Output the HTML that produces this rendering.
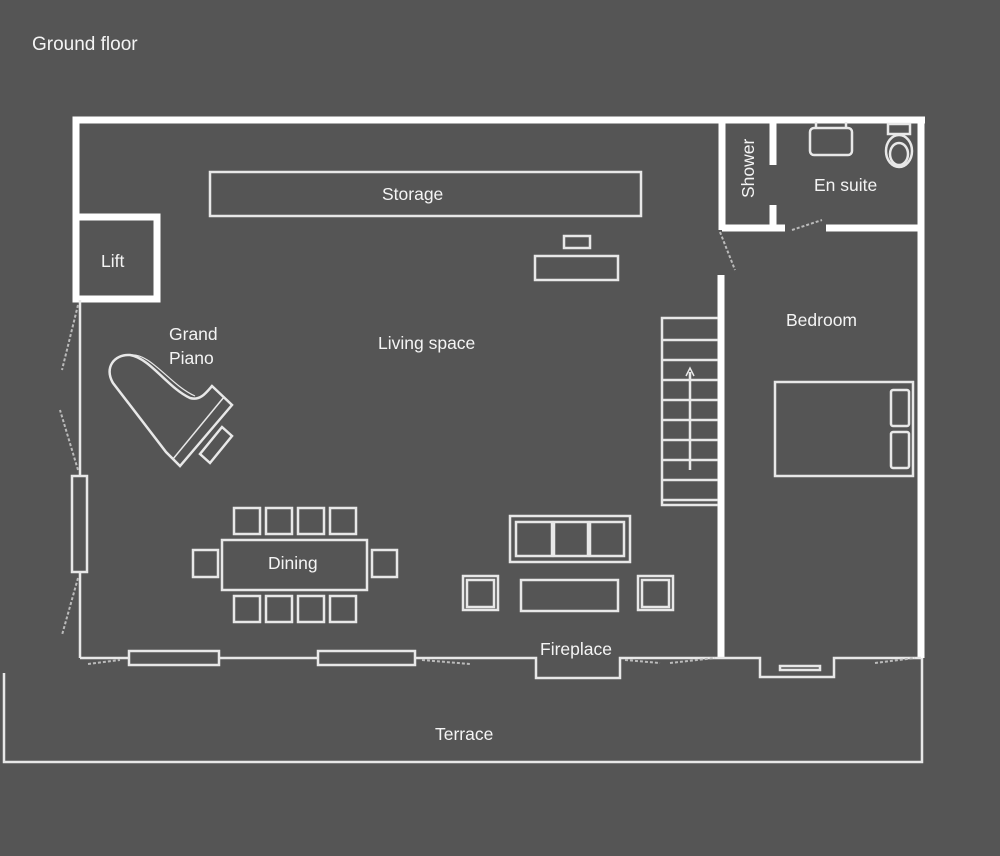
<!DOCTYPE html>
<html><head><style>
html,body{margin:0;padding:0;background:#555555;}
svg{display:block}
text{font-family:"Liberation Sans",sans-serif;font-size:17.5px;fill:#f4f4f4}
</style></head><body>
<svg width="1000" height="856" viewBox="0 0 1000 856">
<rect width="1000" height="856" fill="#555555"/>
<text x="32" y="50" style="font-size:19px">Ground floor</text>
<g stroke="#ffffff" fill="none">
<g stroke-width="7">
<polyline points="76,217 76,120 925,120 921,120 921,658"/>
<rect x="76" y="217" width="81" height="82"/>
<line x1="722" y1="120" x2="722" y2="230"/>
<polyline points="722,228 785,228"/>
<line x1="826" y1="228" x2="921" y2="228"/>
<line x1="773" y1="120" x2="773" y2="165"/>
<line x1="773" y1="205" x2="773" y2="228"/>
<line x1="721" y1="275" x2="721" y2="658"/>
</g>
<g stroke-width="2.5" stroke="#e8e8e8">
<line x1="80" y1="300" x2="80" y2="658"/>
<polyline points="80,658 536,658 536,678 620,678 620,658 760,658 760,677 834,677 834,658 921,658"/>
<polyline points="4,673 4,762 922,762 922,658"/>
<rect x="210" y="172" width="431" height="44"/>
<rect x="564" y="236" width="26" height="12"/>
<rect x="535" y="256" width="83" height="24"/>
<rect x="72" y="476" width="15" height="96" fill="#555"/>
<rect x="129" y="651" width="90" height="14" fill="#555"/>
<rect x="318" y="651" width="97" height="14" fill="#555"/>
<polyline points="718,318 662,318 662,505 718,505"/>
<path d="M662,340H718M662,360H718M662,380H718M662,400H718M662,420H718M662,440H718M662,460H718M662,480H718M662,500H718"/>
<line x1="690" y1="470" x2="690" y2="372"/>
<path d="M686,376 L690,368 L694,376" stroke-width="1.5"/>
<rect x="775" y="382" width="138" height="94"/>
<rect x="891" y="390" width="18" height="36" rx="2"/>
<rect x="891" y="432" width="18" height="36" rx="2"/>
<rect x="222" y="540" width="145" height="50"/>
<rect x="234" y="508" width="26" height="26"/><rect x="266" y="508" width="26" height="26"/><rect x="298" y="508" width="26" height="26"/><rect x="330" y="508" width="26" height="26"/>
<rect x="234" y="596" width="26" height="26"/><rect x="266" y="596" width="26" height="26"/><rect x="298" y="596" width="26" height="26"/><rect x="330" y="596" width="26" height="26"/>
<rect x="193" y="550" width="25" height="27"/><rect x="372" y="550" width="25" height="27"/>
<rect x="510" y="516" width="120" height="46"/>
<rect x="516" y="522" width="36" height="34"/><rect x="554" y="522" width="34" height="34"/><rect x="590" y="522" width="34" height="34"/>
<rect x="463" y="576" width="35" height="34"/><rect x="467" y="580" width="27" height="27"/>
<rect x="638" y="576" width="35" height="34"/><rect x="642" y="580" width="27" height="27"/>
<rect x="521" y="580" width="97" height="31"/>
<!-- piano -->
<path d="M113,383 C104,368 114,354 130,355 C150,358 168,388 190,398 C200,401 206,393 212,386 L232,405 L180,466 L166,452 Z"/>
<line x1="224" y1="397" x2="173" y2="459" stroke-width="1.5"/>
<path d="M130,355 C150,352 170,385 195,396" stroke-width="1.2"/>
<polygon points="222,427 232,436 210,463 200,454"/>
<rect x="810" y="128" width="42" height="27" rx="4"/>
<path d="M816,128V122M846,128V122"/>
<rect x="888" y="124" width="22" height="10"/>
<ellipse cx="899" cy="151" rx="13" ry="16"/>
<ellipse cx="899" cy="154" rx="9" ry="11"/>
<rect x="780" y="666" width="40" height="4"/>
</g>
<g stroke="#bbbbbb" stroke-width="2" stroke-dasharray="3,2">
<line x1="78" y1="305" x2="62" y2="370"/>
<line x1="78" y1="470" x2="60" y2="410"/>
<line x1="78" y1="578" x2="62" y2="635"/>
<line x1="720" y1="232" x2="735" y2="270"/>
<line x1="792" y1="230" x2="822" y2="220"/>
<line x1="88" y1="664" x2="120" y2="660"/>
<line x1="422" y1="660" x2="470" y2="664"/>
<line x1="625" y1="660" x2="660" y2="663"/>
<line x1="670" y1="663" x2="715" y2="658"/>
<line x1="875" y1="663" x2="915" y2="658"/>
</g>
</g>
<text x="101" y="267">Lift</text>
<text x="382" y="200">Storage</text>
<text x="169" y="340">Grand</text>
<text x="169" y="364">Piano</text>
<text x="378" y="349">Living space</text>
<text x="786" y="326">Bedroom</text>
<text x="814" y="191">En suite</text>
<text x="0" y="0" transform="translate(754,198) rotate(-90)">Shower</text>
<text x="268" y="569">Dining</text>
<text x="540" y="655">Fireplace</text>
<text x="435" y="740">Terrace</text>
</svg>
</body></html>
